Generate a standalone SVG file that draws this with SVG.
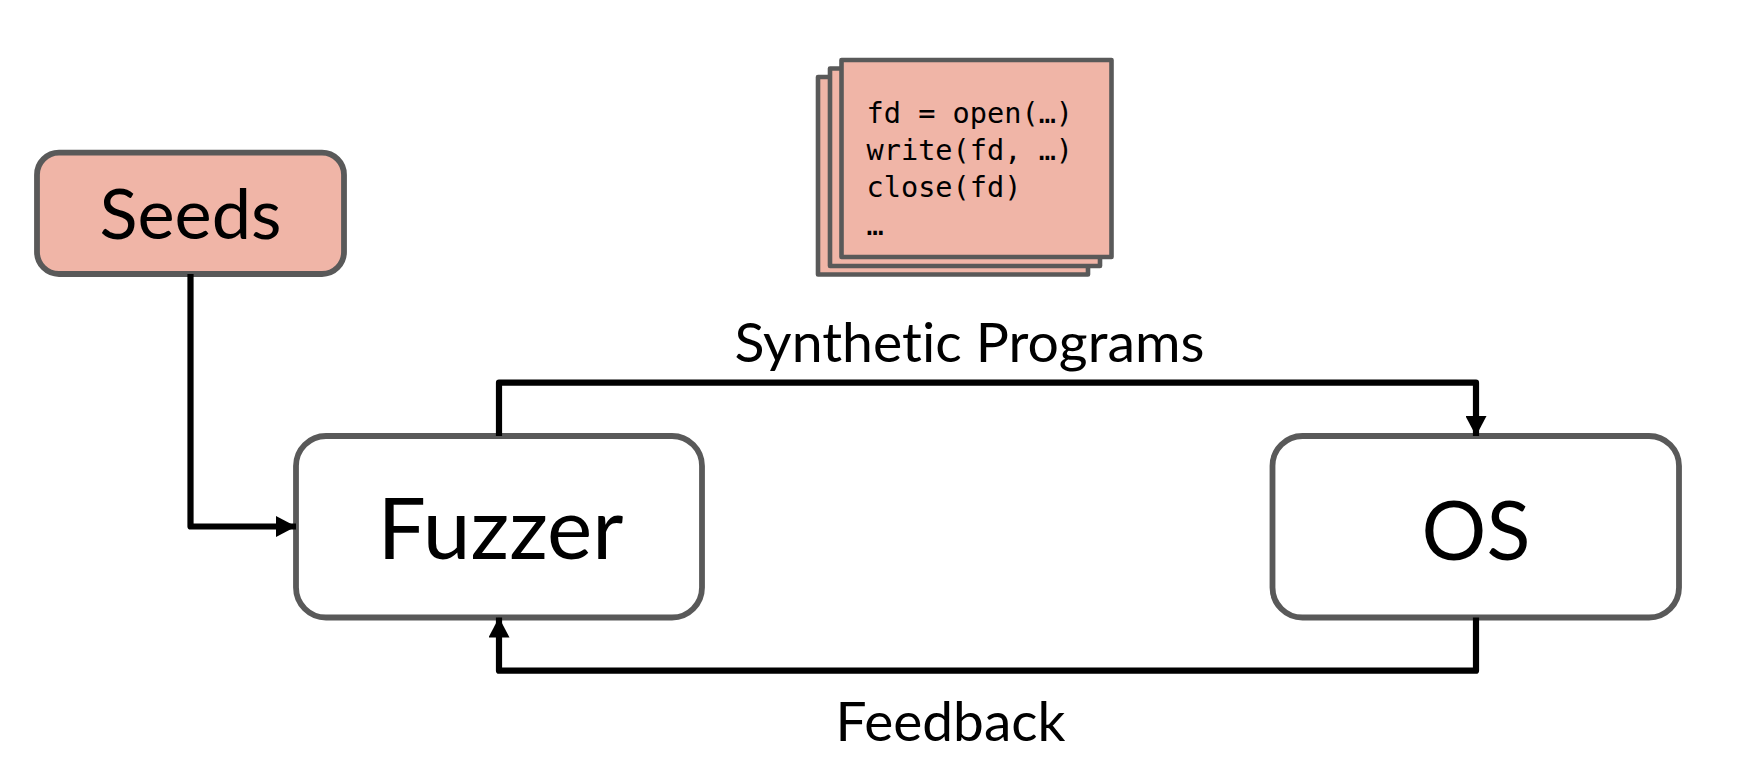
<svg xmlns="http://www.w3.org/2000/svg" width="1748" height="782" viewBox="0 0 1748 782">
<style>
.box{stroke:#595959;stroke-width:5.8}
.pink{fill:#F0B5A7}
.white{fill:#fff}
.sheet{fill:#F0B5A7;stroke:#595959;stroke-width:4.6;stroke-linejoin:round}
.lbl{font-family:"Lato","Liberation Sans",sans-serif;fill:#000;text-anchor:middle;font-variant-ligatures:none}
.code{font-family:"DejaVu Sans Mono","Liberation Mono",monospace;font-size:28.6px;fill:#000}
.conn{fill:none;stroke:#000;stroke-width:6.2;stroke-linejoin:round;stroke-linecap:butt}
</style>
<defs>
<marker id="arrow" markerUnits="userSpaceOnUse" markerWidth="21" markerHeight="21" refX="20" refY="10.5" orient="auto">
<path d="M0 0L20 10.5L0 21Z" fill="#000"/>
</marker>
</defs>
<rect width="1748" height="782" fill="#fff"/>
<g id="seeds"><rect class="box pink" x="37" y="152.7" width="307" height="121.3" rx="22"/><text class="lbl" x="190.5" y="239" font-size="70" textLength="182" lengthAdjust="spacingAndGlyphs">Seeds</text></g>
<g id="fuzzer"><rect class="box white" x="296" y="436" width="406" height="181.5" rx="30"/><text class="lbl" x="500.5" y="558.5" font-size="86" textLength="246" lengthAdjust="spacingAndGlyphs">Fuzzer</text></g>
<g id="os"><rect class="box white" x="1272.5" y="436" width="406.5" height="181.5" rx="30"/><text class="lbl" x="1476" y="560" font-size="81">OS</text></g>
<g id="programs">
<rect class="sheet" x="818" y="77" width="270" height="197.5"/>
<rect class="sheet" x="830" y="68.5" width="270" height="197.5"/>
<rect class="sheet" x="841.5" y="60" width="270" height="197"/>
<text class="code" x="866.5" y="122.7">fd = open(…)</text>
<text class="code" x="866.5" y="159.6">write(fd, …)</text>
<text class="code" x="866.5" y="196.7">close(fd)</text>
<text class="code" x="866.5" y="235">…</text>
</g>
<g id="connectors">
<path class="conn" d="M190.5 274V526.5H296" marker-end="url(#arrow)"/>
<path class="conn" d="M499 436V382.7H1476V436" marker-end="url(#arrow)"/>
<path class="conn" d="M1476 617.5V670.7H499V617.5" marker-end="url(#arrow)"/>
</g>
<g id="labels">
<text class="lbl" x="969.5" y="361.5" font-size="55" textLength="470" lengthAdjust="spacingAndGlyphs">Synthetic Programs</text>
<text class="lbl" x="950.5" y="741" font-size="55" textLength="230" lengthAdjust="spacingAndGlyphs">Feedback</text>
</g>
</svg>
